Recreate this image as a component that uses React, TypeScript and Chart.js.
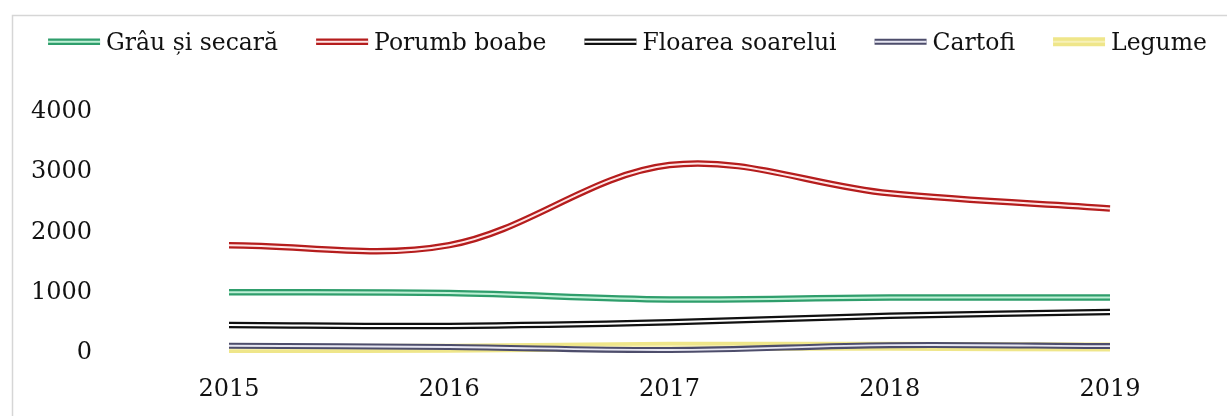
import React, { useEffect, useRef } from 'react';
import { Chart, registerables } from 'chart.js';

Chart.register(...registerables);

// ---- data ----
const years = ['2015', '2016', '2017', '2018', '2019'];
const seriesNames = ['Grâu și secară', 'Porumb boabe', 'Floarea soarelui', 'Cartofi', 'Legume'];
const grauSecara = [1010, 995, 890, 920, 920];
const porumbBoabe = [1790, 1790, 3120, 2650, 2400];
const floareaSoarelui = [465, 450, 510, 620, 680];
const cartofi = [120, 100, 50, 130, 115];
const legume = [70, 80, 110, 110, 100];
const yTickValues = [0, 1000, 2000, 3000, 4000];

const seriesValues = [grauSecara, porumbBoabe, floareaSoarelui, cartofi, legume];

// ---- styles ----
const outerColors = ['#2f9e6c', '#b51d1d', '#111111', '#4d4d6b', '#efe68a'];
const innerColors = ['#bff0d6', '#ffe6e6', '#ffffff', '#e6e6f2', '#f7f1b8'];
const outerWidths = [6.5, 6.5, 6.5, 6, 9];
const innerWidths = [2, 2, 2, 1.8, 2];

const FONT = '"DejaVu Serif", serif';
const LEGEND_FONT_SIZE = 23.5;
const LEGEND_EXTRA = 28; // empty lead-in inside each legend box
const SAMPLE_W = 52;
const SAMPLE_GAP = 6;

const framePlugin = {
  id: 'frame',
  beforeDraw(chart: any) {
    const ctx = chart.ctx;
    ctx.save();
    ctx.fillStyle = '#ffffff';
    ctx.fillRect(0, 0, chart.width, chart.height);
    ctx.strokeStyle = '#d6d6d6';
    ctx.lineWidth = 1.5;
    ctx.beginPath();
    ctx.moveTo(12.5, chart.height + 5);
    ctx.lineTo(12.5, 15.5);
    ctx.lineTo(chart.width + 5, 15.5);
    ctx.stroke();
    ctx.restore();
  },
};

const legendSamplePlugin = {
  id: 'legendSamples',
  afterDraw(chart: any) {
    const lg = chart.legend;
    if (!lg || !lg.legendItems) return;
    const ctx = chart.ctx;
    lg.legendItems.forEach((item: any, i: number) => {
      const hb = lg.legendHitBoxes[i];
      if (!hb) return;
      const s = Math.floor(item.datasetIndex / 2);
      const y = hb.top + hb.height / 2 - 2;
      const x0 = hb.left + LEGEND_EXTRA;
      const x1 = x0 + SAMPLE_W;
      ctx.save();
      ctx.lineCap = 'butt';
      ctx.strokeStyle = outerColors[s];
      ctx.lineWidth = outerWidths[s];
      ctx.beginPath();
      ctx.moveTo(x0, y);
      ctx.lineTo(x1, y);
      ctx.stroke();
      ctx.strokeStyle = innerColors[s];
      ctx.lineWidth = innerWidths[s];
      ctx.beginPath();
      ctx.moveTo(x0, y);
      ctx.lineTo(x1, y);
      ctx.stroke();
      ctx.restore();
    });
  },
};

export default function App() {
  const canvasRef = useRef<HTMLCanvasElement | null>(null);

  useEffect(() => {
    const canvas = canvasRef.current;
    if (!canvas) return;

    const datasets: any[] = [];
    seriesValues.forEach((vals, s) => {
      datasets.push({
        label: seriesNames[s],
        data: vals,
        borderColor: outerColors[s],
        backgroundColor: outerColors[s],
        borderWidth: outerWidths[s],
        pointRadius: 0,
        pointHoverRadius: 0,
        tension: 0.35,
        fill: false,
        order: s * 2 + 1,
      });
      datasets.push({
        label: seriesNames[s],
        data: vals,
        borderColor: innerColors[s],
        backgroundColor: innerColors[s],
        borderWidth: innerWidths[s],
        pointRadius: 0,
        pointHoverRadius: 0,
        tension: 0.35,
        fill: false,
        order: s * 2,
      });
    });

    const chart = new Chart(canvas, {
      type: 'line',
      data: { labels: years, datasets },
      options: {
        responsive: false,
        animation: false,
        events: [],
        layout: { padding: { left: 0, right: 0, top: 22, bottom: 0 } },
        plugins: {
          tooltip: { enabled: false },
          legend: {
            display: true,
            position: 'top',
            align: 'center',
            labels: {
              boxWidth: LEGEND_EXTRA + SAMPLE_W + SAMPLE_GAP - LEGEND_FONT_SIZE / 2,
              boxHeight: 10,
              padding: 10,
              color: '#111111',
              font: { family: FONT, size: LEGEND_FONT_SIZE },
              generateLabels: (ch: any) => {
                const items = Chart.defaults.plugins.legend.labels.generateLabels(ch);
                return items.map((it: any) => ({
                  ...it,
                  fillStyle: 'rgba(0,0,0,0)',
                  strokeStyle: 'rgba(0,0,0,0)',
                  lineWidth: 0,
                }));
              },
              filter: (item: any) => item.datasetIndex % 2 === 0,
              sort: (a: any, b: any) => a.datasetIndex - b.datasetIndex,
            },
          },
        },
        scales: {
          x: {
            type: 'category',
            position: 'bottom',
            offset: false,
            grid: { display: false, drawTicks: false },
            border: { display: false },
            ticks: {
              color: '#111111',
              font: { family: FONT, size: 24 },
              padding: 22,
              maxRotation: 0,
              autoSkip: false,
            },
            afterFit: (s: any) => {
              s.height = 63;
            },
          },
          xTop: {
            type: 'linear',
            position: 'top',
            display: true,
            grid: { display: false, drawTicks: false },
            border: { display: false },
            ticks: { display: false },
            afterFit: (s: any) => {
              s.height = 46.5;
            },
          },
          y: {
            type: 'linear',
            position: 'left',
            weight: 2,
            min: 0,
            max: 4000,
            grid: { display: false, drawTicks: false },
            border: { display: false },
            afterBuildTicks: (s: any) => {
              s.ticks = yTickValues.map((v) => ({ value: v }));
            },
            ticks: {
              color: '#111111',
              font: { family: FONT, size: 24 },
              padding: 4,
              autoSkip: false,
              callback: (v: any) => String(v),
            },
            afterFit: (s: any) => {
              s.width = 96;
            },
          },
          yGap: {
            type: 'linear',
            position: 'left',
            weight: 1,
            display: true,
            grid: { display: false, drawTicks: false },
            border: { display: false },
            ticks: { display: false, padding: 0 },
            afterFit: (s: any) => {
              s.width = 133;
            },
          },
          yR: {
            type: 'linear',
            position: 'right',
            display: true,
            grid: { display: false, drawTicks: false },
            border: { display: false },
            ticks: { display: false, padding: 0 },
            afterFit: (s: any) => {
              s.width = 117;
            },
          },
        },
      } as any,
      plugins: [framePlugin, legendSamplePlugin],
    });

    return () => {
      chart.destroy();
    };
  }, []);

  return (
    <div style={{ position: 'absolute', left: 0, top: 0, width: 1227, height: 416, background: '#ffffff' }}>
      <canvas ref={canvasRef} width={1227} height={416} style={{ display: 'block' }} />
    </div>
  );
}
